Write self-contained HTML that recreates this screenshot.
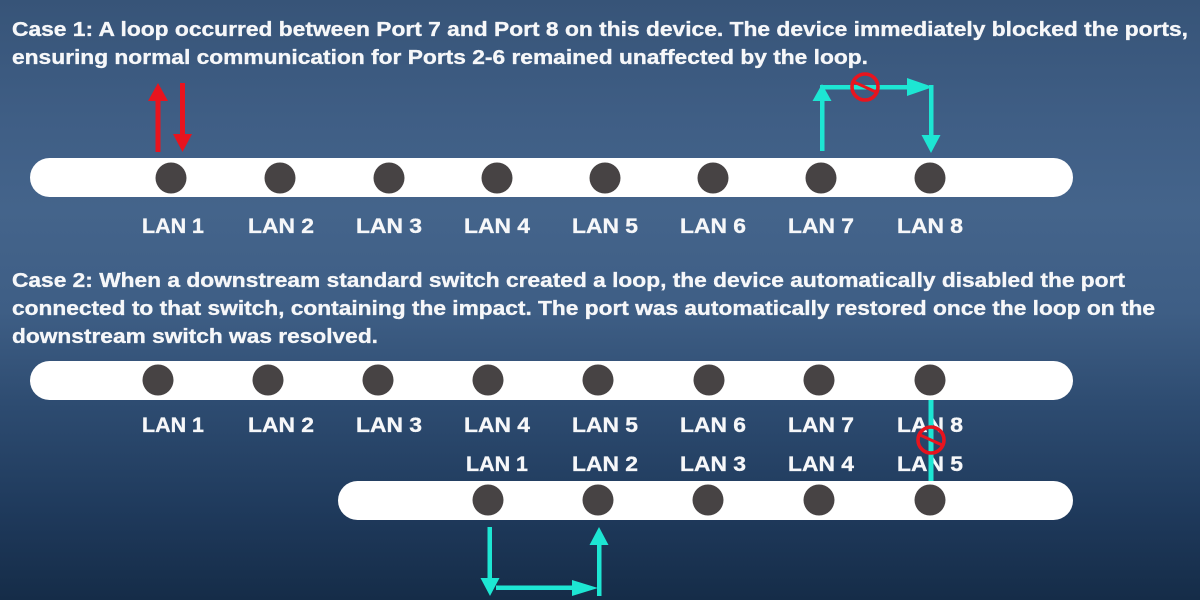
<!DOCTYPE html>
<html><head><meta charset="utf-8"><style>
html,body{margin:0;padding:0;}
body{width:1200px;height:600px;overflow:hidden;background:linear-gradient(180deg,#375478 0%,#3f5e85 20%,#44648b 35%,#3e5e85 52%,#2d4b70 68%,#1f3a5c 85%,#152c48 100%);}
svg{display:block;}
text{font-family:"Liberation Sans",Arial,Helvetica,sans-serif;font-weight:700;}
.h{font-size:20.6px;fill:#f6f7f9;stroke:#f6f7f9;stroke-width:0.35px;}
.l{font-size:21.5px;fill:#f6f7f9;text-anchor:middle;stroke:#f6f7f9;stroke-width:0.35px;}
</style></head><body>
<svg width="1200" height="600" viewBox="0 0 1200 600" xmlns="http://www.w3.org/2000/svg" font-family="Liberation Sans, Arial, sans-serif" font-weight="bold">
<text class="h" x="12" y="36" textLength="1176" lengthAdjust="spacingAndGlyphs">Case 1: A loop occurred between Port 7 and Port 8 on this device. The device immediately blocked the ports,</text>
<text class="h" x="12" y="64" textLength="856" lengthAdjust="spacingAndGlyphs">ensuring normal communication for Ports 2-6 remained unaffected by the loop.</text>

<!-- red arrows -->
<g fill="#e8141e" stroke="none">
<rect x="155.5" y="99" width="5" height="53"/>
<polygon points="158,83 148,101 168,101"/>
<rect x="180" y="83" width="5" height="52"/>
<polygon points="182.5,152 173,134 192,134"/>
</g>

<!-- case1 cyan loop -->
<g fill="#1de6d3">
<rect x="820" y="98" width="4.5" height="53"/>
<polygon points="822,84 812.5,101 831.5,101"/>
<rect x="820" y="85" width="90" height="4.5"/>
<polygon points="907,78 907,96 933,87"/>
<rect x="929" y="85" width="4.5" height="52"/>
<polygon points="931,153 921.5,135 940.5,135"/>
</g>
<g>
<circle cx="865" cy="87" r="13" fill="none" stroke="#e8141e" stroke-width="3.6"/>
<line x1="854" y1="82" x2="876" y2="92" stroke="#e8141e" stroke-width="3"/>
</g>

<!-- bar 1 -->
<rect x="30" y="158" width="1043" height="39" rx="19.5" fill="#ffffff"/>
<g fill="#474344">
<circle cx="171" cy="178" r="15.5"/><circle cx="280" cy="178" r="15.5"/><circle cx="389" cy="178" r="15.5"/><circle cx="497" cy="178" r="15.5"/>
<circle cx="605" cy="178" r="15.5"/><circle cx="713" cy="178" r="15.5"/><circle cx="821" cy="178" r="15.5"/><circle cx="930" cy="178" r="15.5"/>
</g>
<text class="l" x="173" y="233" textLength="62" lengthAdjust="spacingAndGlyphs">LAN 1</text><text class="l" x="281" y="233" textLength="66" lengthAdjust="spacingAndGlyphs">LAN 2</text><text class="l" x="389" y="233" textLength="66" lengthAdjust="spacingAndGlyphs">LAN 3</text><text class="l" x="497" y="233" textLength="66" lengthAdjust="spacingAndGlyphs">LAN 4</text>
<text class="l" x="605" y="233" textLength="66" lengthAdjust="spacingAndGlyphs">LAN 5</text><text class="l" x="713" y="233" textLength="66" lengthAdjust="spacingAndGlyphs">LAN 6</text><text class="l" x="821" y="233" textLength="66" lengthAdjust="spacingAndGlyphs">LAN 7</text><text class="l" x="930" y="233" textLength="66" lengthAdjust="spacingAndGlyphs">LAN 8</text>

<text class="h" x="12" y="287" textLength="1113" lengthAdjust="spacingAndGlyphs">Case 2: When a downstream standard switch created a loop, the device automatically disabled the port</text>
<text class="h" x="12" y="315" textLength="1143" lengthAdjust="spacingAndGlyphs">connected to that switch, containing the impact. The port was automatically restored once the loop on the</text>
<text class="h" x="12" y="343" textLength="366" lengthAdjust="spacingAndGlyphs">downstream switch was resolved.</text>

<!-- bar 2 -->
<rect x="30" y="361" width="1043" height="39" rx="19.5" fill="#ffffff"/>
<g fill="#474344">
<circle cx="158" cy="380" r="15.5"/><circle cx="268" cy="380" r="15.5"/><circle cx="378" cy="380" r="15.5"/><circle cx="488" cy="380" r="15.5"/>
<circle cx="598" cy="380" r="15.5"/><circle cx="709" cy="380" r="15.5"/><circle cx="819" cy="380" r="15.5"/><circle cx="930" cy="380" r="15.5"/>
</g>
<text class="l" x="173" y="432" textLength="62" lengthAdjust="spacingAndGlyphs">LAN 1</text><text class="l" x="281" y="432" textLength="66" lengthAdjust="spacingAndGlyphs">LAN 2</text><text class="l" x="389" y="432" textLength="66" lengthAdjust="spacingAndGlyphs">LAN 3</text><text class="l" x="497" y="432" textLength="66" lengthAdjust="spacingAndGlyphs">LAN 4</text>
<text class="l" x="605" y="432" textLength="66" lengthAdjust="spacingAndGlyphs">LAN 5</text><text class="l" x="713" y="432" textLength="66" lengthAdjust="spacingAndGlyphs">LAN 6</text><text class="l" x="821" y="432" textLength="66" lengthAdjust="spacingAndGlyphs">LAN 7</text><text class="l" x="930" y="432" textLength="66" lengthAdjust="spacingAndGlyphs">LAN 8</text>

<text class="l" x="497" y="471" textLength="62" lengthAdjust="spacingAndGlyphs">LAN 1</text><text class="l" x="605" y="471" textLength="66" lengthAdjust="spacingAndGlyphs">LAN 2</text><text class="l" x="713" y="471" textLength="66" lengthAdjust="spacingAndGlyphs">LAN 3</text><text class="l" x="821" y="471" textLength="66" lengthAdjust="spacingAndGlyphs">LAN 4</text><text class="l" x="930" y="471" textLength="66" lengthAdjust="spacingAndGlyphs">LAN 5</text>

<!-- vertical link -->
<rect x="928.5" y="400" width="5" height="82" fill="#1de6d3"/>
<circle cx="931" cy="440" r="13" fill="none" stroke="#e8141e" stroke-width="3.6"/>
<line x1="920" y1="435" x2="942" y2="445" stroke="#e8141e" stroke-width="3"/>

<!-- bar 3 -->
<rect x="338" y="481" width="735" height="39" rx="19.5" fill="#ffffff"/>
<g fill="#474344">
<circle cx="488" cy="500" r="15.5"/><circle cx="598" cy="500" r="15.5"/><circle cx="708" cy="500" r="15.5"/><circle cx="819" cy="500" r="15.5"/><circle cx="930" cy="500" r="15.5"/>
</g>

<!-- bottom loop -->
<g fill="#1de6d3">
<rect x="487.5" y="527" width="4.5" height="54"/>
<polygon points="490,596 480.5,578 499.5,578"/>
<rect x="496" y="585.5" width="78" height="4.5"/>
<polygon points="572,580 572,596 598,588"/>
<rect x="597" y="542" width="4.5" height="54"/>
<polygon points="599,527 589.5,545 608.5,545"/>
</g>
</svg>
</body></html>
